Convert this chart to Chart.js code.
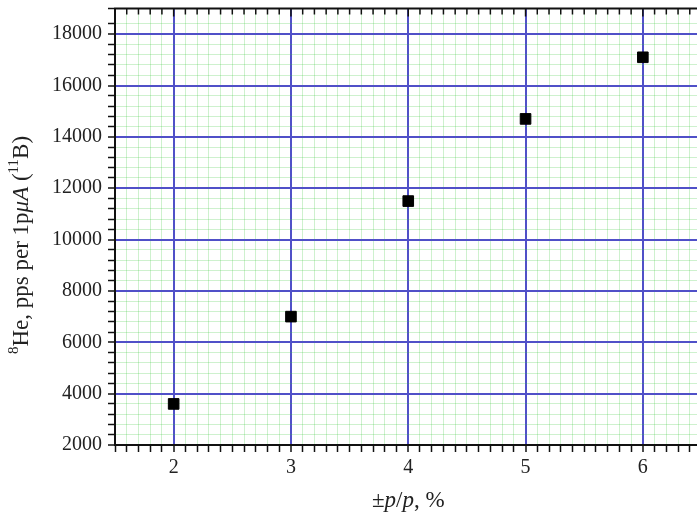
<!DOCTYPE html>
<html>
<head>
<meta charset="utf-8">
<script src="https://cdn.jsdelivr.net/npm/chart.js@4/dist/chart.umd.min.js"></script>
<style>
  html, body { margin: 0; padding: 0; background: #fff; overflow: hidden; }
  #wrap { width: 710px; height: 517px; }
</style>
</head>
<body>
<div id="wrap"><canvas id="heChart"></canvas></div>
<script>
// momentum acceptance (%) and 8He yield
const momentumSpread = [2, 3, 4, 5, 6];
const heYield = [3600, 7000, 11500, 14700, 17100];

const xRange = [1.5, 6.5];
const yRange = [2000, 19000];

const SERIF = '"Liberation Serif", "Times New Roman", serif';
const MAJOR = 'rgb(80, 80, 200)';
const MINOR = 'rgba(60, 200, 60, 0.25)';

const near = (v, step) => Math.abs(v / step - Math.round(v / step)) < 1e-6;

// draw a line of text made of plain / italic / superscript pieces
function drawRich(ctx, parts, cx, cy, angle) {
    const size = 23;
    const fontFor = p => (p.italic ? 'italic ' : '') + (p.sup ? 15 : size) + 'px ' + SERIF;
    let total = 0;
    parts.forEach(p => { ctx.font = fontFor(p); total += ctx.measureText(p.t).width; });
    ctx.save();
    ctx.translate(cx, cy);
    ctx.rotate(angle);
    ctx.fillStyle = '#222';
    ctx.textBaseline = 'middle';
    ctx.textAlign = 'left';
    let x = -total / 2;
    parts.forEach(p => {
        ctx.font = fontFor(p);
        ctx.fillText(p.t, x, p.sup ? -8 : 0);
        x += ctx.measureText(p.t).width;
    });
    ctx.restore();
}

const framePlugin = {
    id: 'frame',
    afterDraw(chart) {
        const { ctx, chartArea: a, scales } = chart;
        ctx.save();
        // top border with inward ticks
        ctx.strokeStyle = '#111';
        ctx.lineWidth = 2;
        ctx.beginPath();
        ctx.moveTo(a.left - 1, a.top);
        ctx.lineTo(a.right, a.top);
        ctx.stroke();
        ctx.lineWidth = 1.5;
        scales.x.ticks.forEach(t => {
            const px = scales.x.getPixelForValue(t.value);
            const len = near(t.value, 1) ? 8 : 6;
            ctx.beginPath();
            ctx.moveTo(px, a.top);
            ctx.lineTo(px, a.top + len);
            ctx.stroke();
        });
        ctx.restore();

        drawRich(ctx, [
            { t: '±' }, { t: 'p', italic: true }, { t: '/' }, { t: 'p', italic: true }, { t: ', %' }
        ], (a.left + a.right) / 2, 501, 0);

        drawRich(ctx, [
            { t: '8', sup: true }, { t: 'He, pps per 1p' }, { t: 'μA', italic: true },
            { t: ' (' }, { t: '11', sup: true }, { t: 'B)' }
        ], 22, 245, -Math.PI / 2);
    }
};

const ctx = document.getElementById('heChart').getContext('2d');
new Chart(ctx, {
    type: 'scatter',
    data: {
        datasets: [{
            label: '8He yield',
            data: momentumSpread.map((m, i) => ({ x: m, y: heYield[i] })),
            backgroundColor: '#000',
            borderColor: '#000',
            pointStyle: 'rect',
            pointRadius: 7.5,
            pointHoverRadius: 7.5
        }]
    },
    options: {
        responsive: true,
        maintainAspectRatio: false,
        animation: false,
        layout: { padding: { top: 8, right: 0, left: 0, bottom: 0 } },
        plugins: {
            legend: { display: false },
            tooltip: { enabled: false }
        },
        scales: {
            x: {
                type: 'linear',
                min: xRange[0],
                max: xRange[1],
                afterFit: s => { s.height = 72; },
                border: { color: '#111', width: 2 },
                grid: {
                    color: c => near(c.tick.value, 1) ? MAJOR : MINOR,
                    lineWidth: c => near(c.tick.value, 1) ? 2 : 1,
                    tickColor: '#111',
                    tickLength: 7,
                    tickWidth: 1.5
                },
                ticks: {
                    stepSize: 0.1,
                    maxTicksLimit: 1000,
                    autoSkip: false,
                    maxRotation: 0,
                    padding: 4,
                    color: '#222',
                    font: { family: SERIF, size: 20 },
                    callback: v => near(v, 1) ? String(Math.round(v)) : ''
                }
            },
            y: {
                type: 'linear',
                min: yRange[0],
                max: yRange[1],
                afterFit: s => { s.width = 115; s.paddingTop = 0; s.paddingBottom = 0; },
                border: { color: '#111', width: 2 },
                grid: {
                    color: c => near(c.tick.value, 2000) ? MAJOR : MINOR,
                    lineWidth: c => near(c.tick.value, 2000) ? 2 : 1,
                    tickColor: '#111',
                    tickLength: 7,
                    tickWidth: 1.5
                },
                ticks: {
                    stepSize: 400,
                    maxTicksLimit: 1000,
                    autoSkip: false,
                    padding: 6,
                    color: '#222',
                    font: { family: SERIF, size: 20 },
                    callback: v => near(v, 2000) ? String(Math.round(v)) : ''
                }
            }
        }
    },
    plugins: [framePlugin]
});
</script>
</body>
</html>
